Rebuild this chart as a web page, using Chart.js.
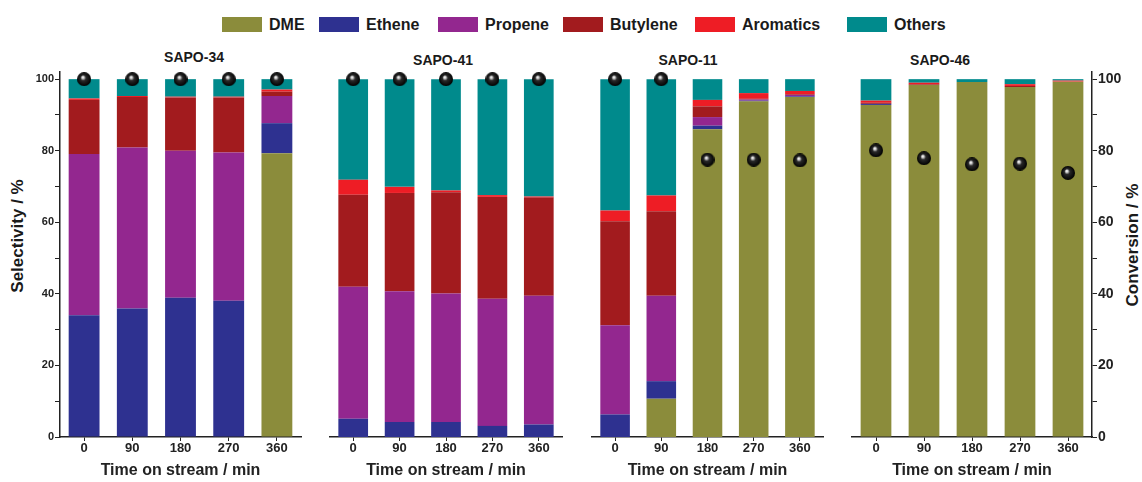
<!DOCTYPE html>
<html>
<head>
<meta charset="utf-8">
<script src="https://cdn.jsdelivr.net/npm/chart.js@4.4.1/dist/chart.umd.min.js"></script>
<style>
  body { margin: 0; background: #fff; width: 1142px; height: 482px; overflow: hidden; position: relative;
         font-family: "Liberation Sans", Arial, sans-serif; color: #1a1a1a; }
  canvas { position: absolute; top: 0; }
  .lg { position: absolute; top: 17px; display: flex; align-items: center; font-weight: bold; font-size: 16px; line-height: 15px; }
  .lg i { display: inline-block; width: 40px; height: 15px; margin-right: 7px; }
  .ttl { position: absolute; font-weight: bold; font-size: 14px; transform: translate(-50%, -50%); white-space: nowrap; }
  .ytl { position: absolute; font-weight: bold; font-size: 17px; white-space: nowrap;
         transform: translate(-50%, -50%) rotate(-90deg); }
</style>
</head>
<body>
<script>
// ---- data ----
const catalysts = ['SAPO-34', 'SAPO-41', 'SAPO-11', 'SAPO-46'];
const times = ['0', '90', '180', '270', '360'];
const yTicks = [0, 10, 20, 30, 40, 50, 60, 70, 80, 90, 100];

// selectivity / %, one row per catalyst (same order as catalysts)
const dme       = [[0, 0, 0, 0, 79.3], [0, 0, 0, 0, 0], [0, 10.7, 86.0, 93.8, 95.0], [92.8, 98.4, 99.2, 97.8, 99.3]];
const ethene    = [[34.0, 35.9, 38.9, 38.1, 8.4], [5.1, 4.2, 4.2, 3.1, 3.5], [6.3, 4.9, 1.0, 0.2, 0.2], [0.3, 0, 0, 0, 0]];
const propene   = [[45.1, 45.0, 41.1, 41.4, 7.6], [36.9, 36.5, 35.9, 35.5, 36.0], [24.9, 23.9, 2.4, 0.3, 0.4], [0, 0, 0, 0, 0]];
const butylene  = [[15.1, 14.1, 14.9, 15.4, 1.2], [25.7, 27.5, 28.3, 28.5, 27.4], [29.1, 23.6, 3.0, 0.2, 0.2], [0.3, 0.2, 0, 0.3, 0]];
const aromatics = [[0.4, 0.3, 0.2, 0.2, 0.6], [4.2, 1.7, 0.5, 0.5, 0.3], [3.0, 4.4, 1.8, 1.6, 0.9], [0.6, 0.4, 0, 0.5, 0.3]];
const others    = [[5.4, 4.7, 4.9, 4.9, 2.9], [28.1, 30.1, 31.1, 32.4, 32.8], [36.7, 32.5, 5.8, 3.9, 3.3], [6.0, 1.0, 0.8, 1.4, 0.4]];

// conversion / %
const conversion = [[100, 100, 100, 100, 100], [100, 100, 100, 100, 100], [100, 100, 77.5, 77.5, 77.3], [80.1, 77.9, 76.2, 76.4, 73.8]];

const seriesNames = ['DME', 'Ethene', 'Propene', 'Butylene', 'Aromatics', 'Others'];
const seriesData = [dme, ethene, propene, butylene, aromatics, others];
const colors = ['#8b8c3b', '#2e3190', '#93278f', '#a21b1e', '#ee1d25', '#008a8c'];

// ---- layout ----
const FONT = '"Liberation Sans", Arial, sans-serif';
const INK = '#222';
const panels = [
  { left: 0,   width: 309, axis: 'left',  axisW: 60 },
  { left: 322, width: 248 },
  { left: 584, width: 247 },
  { left: 844, width: 298, axis: 'right', axisW: 50 }
];
const titlePos = [[194, 57], [443, 60], [688, 60], [940, 60]];
const legendX = [222, 319, 438, 563, 695, 847];

// legend
seriesNames.forEach((name, k) => {
  const d = document.createElement('div');
  d.className = 'lg';
  d.style.left = legendX[k] + 'px';
  d.innerHTML = '<i style="background:' + colors[k] + '"></i>' + name;
  document.body.appendChild(d);
});

// panel titles
catalysts.forEach((name, i) => {
  const d = document.createElement('div');
  d.className = 'ttl';
  d.style.left = titlePos[i][0] + 'px';
  d.style.top = titlePos[i][1] + 'px';
  d.textContent = name;
  document.body.appendChild(d);
});

// y axis titles
[['Selectivity / %', 18, 236], ['Conversion / %', 1133, 245]].forEach(t => {
  const d = document.createElement('div');
  d.className = 'ytl';
  d.style.left = t[1] + 'px';
  d.style.top = t[2] + 'px';
  d.textContent = t[0];
  document.body.appendChild(d);
});

// shiny black ball for the conversion points
function makeBall(r) {
  const c = document.createElement('canvas');
  c.width = c.height = 2 * r;
  const g = c.getContext('2d');
  const grad = g.createRadialGradient(r * 0.8, r * 0.7, 0, r, r, r);
  grad.addColorStop(0, '#ffffff');
  grad.addColorStop(0.15, '#d8d8d8');
  grad.addColorStop(0.4, '#2a2a2a');
  grad.addColorStop(1, '#000000');
  g.fillStyle = grad;
  g.beginPath();
  g.arc(r, r, r, 0, Math.PI * 2);
  g.fill();
  return c;
}
const ball = makeBall(7);

panels.forEach((p, i) => {
  const cv = document.createElement('canvas');
  cv.width = p.width;
  cv.height = 482;
  cv.style.left = p.left + 'px';
  document.body.appendChild(cv);

  const datasets = [{
    type: 'line',
    label: 'Conversion',
    data: conversion[i],
    stack: 'conv',
    showLine: false,
    pointStyle: ball,
    pointRadius: 7,
    order: 0
  }];
  seriesNames.forEach((name, k) => {
    datasets.push({
      type: 'bar',
      label: name,
      data: seriesData[k][i],
      backgroundColor: colors[k],
      borderWidth: 0,
      stack: 'sel',
      barPercentage: 0.64,
      categoryPercentage: 1,
      order: 1
    });
  });

  new Chart(cv, {
    data: { labels: times, datasets },
    options: {
      responsive: false,
      devicePixelRatio: 1,
      animation: false,
      events: [],
      layout: { padding: { top: 72, left: 0, right: 0, bottom: 0 } },
      plugins: { legend: { display: false }, tooltip: { enabled: false } },
      scales: {
        x: {
          stacked: true,
          grid: { drawOnChartArea: false, offset: false, tickLength: 4, color: INK },
          border: { color: INK, width: 1.5 },
          ticks: { color: INK, padding: 0, font: { family: FONT, size: 13, weight: 'bold' } },
          title: {
            display: true, text: 'Time on stream / min', color: INK,
            padding: { top: 0, bottom: 2 },
            font: { family: FONT, size: 16, weight: 'bold' }
          },
          afterFit: s => { s.height = 45; }
        },
        y: {
          stacked: true,
          min: 0,
          max: 102,
          display: !!p.axis,
          position: p.axis || 'left',
          afterFit: s => { if (p.axisW) s.width = p.axisW; },
          afterBuildTicks: s => { s.ticks = yTicks.map(v => ({ value: v })); },
          grid: { drawOnChartArea: false, tickLength: 5, color: INK },
          border: { color: INK, width: 1.5 },
          ticks: {
            color: INK,
            padding: 1,
            font: { family: FONT, size: p.axis === 'right' ? 14 : 11, weight: 'bold' },
            callback: v => (v % 20 === 0 ? v : '')
          }
        }
      }
    }
  });
});
</script>
</body>
</html>
